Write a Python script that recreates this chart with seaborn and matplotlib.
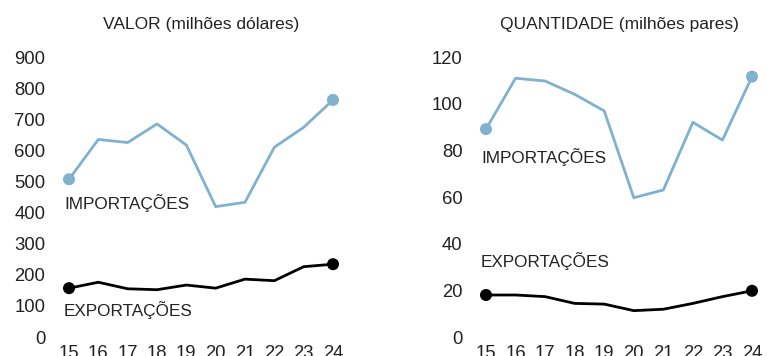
import pandas as pd
import numpy as np
import seaborn as sns
import matplotlib.pyplot as plt

# Data
anos = [15, 16, 17, 18, 19, 20, 21, 22, 23, 24]
valor_import = [507, 635, 625, 685, 617, 419, 433, 610, 674, 762]
valor_export = [157, 176, 155, 152, 167, 157, 186, 181, 226, 234]
qtd_import = [89.1, 110.9, 109.7, 104.0, 96.9, 59.7, 63.0, 92.0, 84.4, 111.6]
qtd_export = [18.0, 18.0, 17.3, 14.4, 14.1, 11.3, 11.9, 14.4, 17.3, 19.8]

titles = ["VALOR (milhões dólares)", "QUANTIDADE (milhões pares)"]
yticks = [[0, 100, 200, 300, 400, 500, 600, 700, 800, 900],
          [0, 20, 40, 60, 80, 100, 120]]

sns.set_style("white")
plt.rcParams['font.family'] = ['Liberation Sans', 'DejaVu Sans']

cor_imp = "#80b1cd"
cor_exp = "#000000"

fig = plt.figure(figsize=(7.67, 3.56), dpi=100)
W, H = 767, 356
ax1 = fig.add_axes([69 / W, (356 - 337) / H, 264 / W, 280 / H])
ax2 = fig.add_axes([486 / W, (356 - 337) / H, 266 / W, 280 / H])

paineis = [
    (ax1, valor_import, valor_export, (431, 87)),
    (ax2, qtd_import, qtd_export, (77.3, 32.7)),
]

for i, (ax, imp, exp, lab_y) in enumerate(paineis):
    df = pd.DataFrame({"ano": anos, "imp": imp, "exp": exp})
    sns.lineplot(data=df, x="ano", y="imp", color=cor_imp, linewidth=2.0, ax=ax)
    sns.lineplot(data=df, x="ano", y="exp", color=cor_exp, linewidth=2.0, ax=ax)
    ends = df.iloc[[0, -1]]
    sns.scatterplot(data=ends, x="ano", y="imp", color=cor_imp, s=75,
                    edgecolor="none", ax=ax, clip_on=False, zorder=5)
    sns.scatterplot(data=ends, x="ano", y="exp", color=cor_exp, s=75,
                    edgecolor="none", ax=ax, clip_on=False, zorder=5)

    ax.set_xlim(15, 24)
    ax.set_ylim(yticks[i][0], yticks[i][-1])
    ax.set_xticks(anos)
    ax.set_xticklabels([str(a) for a in anos])
    ax.set_yticks(yticks[i])
    ax.tick_params(length=0, labelsize=13.3, colors="#222222")
    ax.tick_params(axis="y", pad=17)
    ax.tick_params(axis="x", pad=6)
    ax.set_xlabel("")
    ax.set_ylabel("")
    for s in ax.spines.values():
        s.set_visible(False)

    ax.text(14.83, lab_y[0], "IMPORTAÇÕES", fontsize=12.3, va="center",
            ha="left", color="#222222")
    ax.text(14.83, lab_y[1], "EXPORTAÇÕES", fontsize=12.3, va="center",
            ha="left", color="#222222")
    ax.set_title(titles[i], fontsize=12.5, color="#222222", pad=20)

fig.savefig("out.png", dpi=100)
